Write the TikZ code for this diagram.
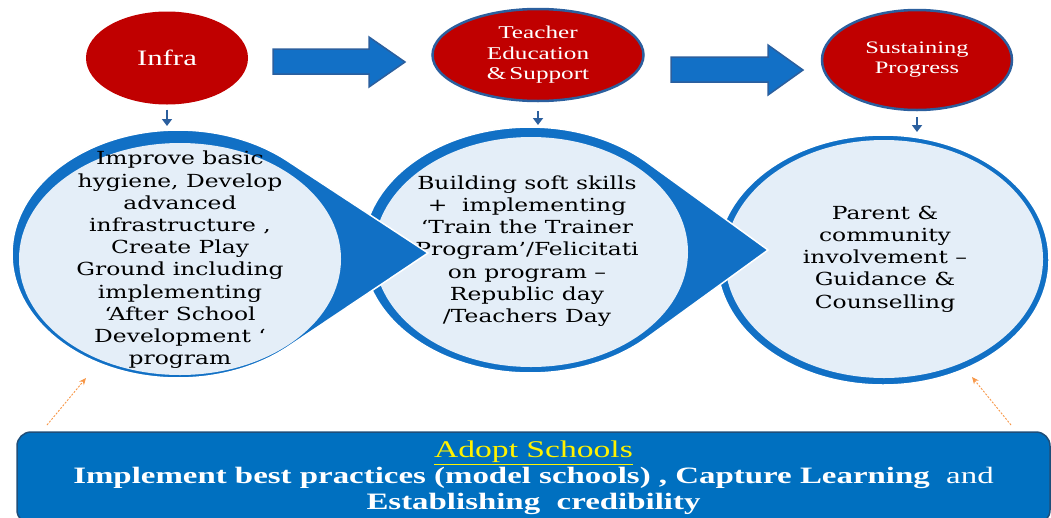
\documentclass[tikz,border=0pt]{standalone}
\usepackage{fontspec}
\setmainfont{DejaVu Serif}[FakeStretch=1.3]
\newfontfamily\headfont{Liberation Serif}[FakeStretch=1.4]
\usetikzlibrary{shapes.geometric,arrows.meta}
\definecolor{infrared}{HTML}{C00000}
\definecolor{ringblue}{HTML}{1170C5}
\definecolor{paleblue}{HTML}{E4EEF8}
\definecolor{edgeblue}{HTML}{2B5F9E}
\definecolor{arrowblue}{HTML}{1270C6}
\definecolor{boxblue}{HTML}{0070C0}
\definecolor{boxedge}{HTML}{1F4E79}
\definecolor{hintorange}{HTML}{F79646}

\begin{document}
\begin{tikzpicture}[x=1pt,y=-1pt,
  topoval/.style={ellipse, fill=infrared, text=white, align=center, inner sep=0pt},
  ringedge/.style={draw=edgeblue, line width=2.5pt},
  blockarrow/.style={fill=arrowblue, draw=edgeblue, line width=1.5pt, line join=miter},
  ring/.style={fill=ringblue, draw=white, line width=1.5pt},
  pale/.style={fill=paleblue},
  circletext/.style={align=center, inner sep=0pt, font=\fontsize{18}{22.2}\selectfont},
  stemarrow/.style={draw=edgeblue, line width=2.8pt, -{Triangle[length=7pt,width=10pt]}},
  hintarrow/.style={draw=hintorange, line width=0.9pt, dash pattern=on 2pt off 1.5pt, -{Stealth[length=7pt,width=6pt]}},
  adoptbox/.style={fill=boxblue, draw=boxedge, line width=1.5pt, rounded corners=14pt, text=white, align=center, inner sep=0pt}]
  \useasboundingbox (0,0) rectangle (1051,517);

  % the three steps on top
  \node[topoval, minimum width=162, minimum height=93, font=\headfont\fontsize{22}{24}\selectfont] (infra) at (167,58) {Infra};
  \node[topoval, ringedge, minimum width=211, minimum height=92, font=\headfont\fontsize{18}{20.5}\selectfont] (teacher) at (538,55) {Teacher\\Education\\\&\,Support};
  \node[topoval, ringedge, minimum width=190, minimum height=100, font=\headfont\fontsize{17.5}{20}\selectfont] (sustain) at (917,60) {Sustaining\\Progress};

  % block arrows between the steps
  \filldraw[blockarrow] (273,49) -- (369,49) -- (369,37) -- (405,62) -- (369,87) -- (369,74) -- (273,74) -- cycle;
  \filldraw[blockarrow] (671,57) -- (768,57) -- (768,45) -- (803,70) -- (768,95) -- (768,82) -- (671,82) -- cycle;

  % right circle
  \filldraw[ring] (883,260) ellipse [x radius=166, y radius=125];
  \fill[pale] (884,259) ellipse [x radius=159, y radius=119];
  \node[circletext] (parent) at (885,259) {Parent \&\\community\\involvement --\\Guidance \&\\Counselling};

  % middle circle with its pointer
  \filldraw[ring] (530,250) ++(45.4:167 and 123) arc[start angle=45.4, end angle=314.6, x radius=167, y radius=123] -- (768,250) -- cycle;
  \fill[pale] (531,252) ellipse [x radius=157, y radius=115];
  \node[circletext] (building) at (527,251) {Building soft skills\\+\ \ implementing\\‘Train the Trainer\\Program’/Felicitati\\on program --\\Republic day\\/Teachers Day};

  % left circle with its pointer
  \filldraw[ring] (178,254) ++(48.4:166 and 124) arc[start angle=48.4, end angle=311.6, x radius=166, y radius=124] -- (428,253) -- cycle;
  \fill[pale] (180,259) ellipse [x radius=161, y radius=116];
  \node[circletext] (improve) at (180,260) {Improve basic\\hygiene, Develop\\advanced\\infrastructure ,\\Create Play\\Ground including\\implementing\\‘After School\\Development ‘\\program};

  % small arrows down
  \coordinate (improvetop) at (167,126);
  \coordinate (buildingtop) at (538,125);
  \coordinate (parenttop) at (917,132);
  \draw[stemarrow, shorten <=5pt] (infra.south) -- (improvetop);
  \draw[stemarrow, shorten <=9pt] (teacher.south) -- (buildingtop);
  \draw[stemarrow, shorten <=6pt] (sustain.south) -- (parenttop);

  % adopt schools box
  \node[adoptbox, minimum width=1033, minimum height=92, font=\headfont\bfseries\fontsize{23.5}{26}\selectfont] (adopt) at (533.5,478) {{\mdseries\fontsize{24}{26}\selectfont\color{yellow}\underline{Adopt Schools}}\\Implement best practices (model schools) , Capture Learning\ \ {\mdseries and}\\Establishing\ \ credibility};

  % dashed hints up to the circles
  \coordinate (leftfoot) at (47,425);
  \coordinate (lefthead) at (86,378);
  \coordinate (rightfoot) at (1011,425);
  \coordinate (righthead) at (972,377);
  \draw[hintarrow] (leftfoot) -- (lefthead);
  \draw[hintarrow] (rightfoot) -- (righthead);
\end{tikzpicture}
\end{document}
